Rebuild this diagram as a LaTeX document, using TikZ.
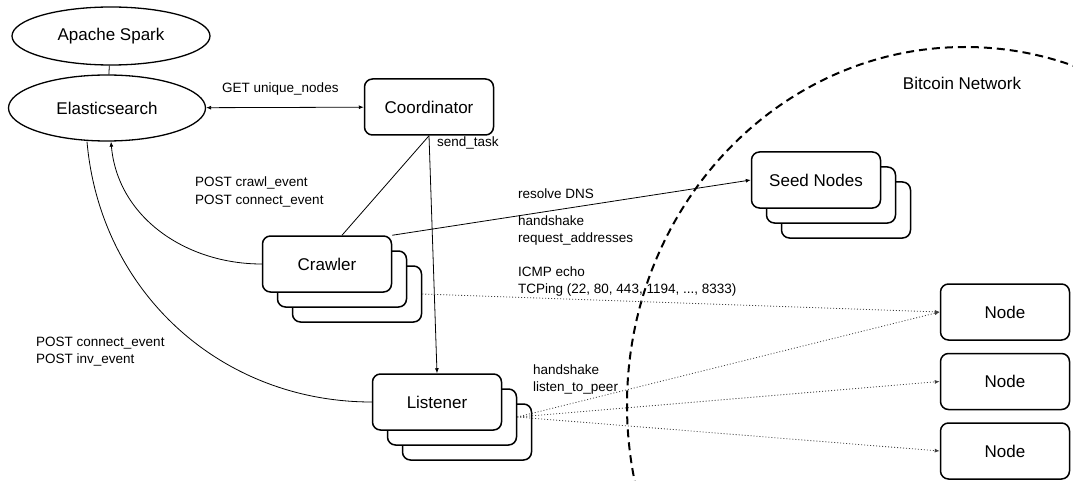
\documentclass[tikz,border=0pt]{standalone}
\usepackage{fontspec}
\setmainfont{Liberation Sans}
\usetikzlibrary{shapes.geometric,arrows.meta}

\begin{document}
\begin{tikzpicture}[x=1pt,y=1pt,
    box/.style={draw,line width=1.5pt,rounded corners=8pt,fill=white,minimum width=129pt,minimum height=56pt,font=\fontsize{17}{20}\selectfont},
    db/.style={draw,ellipse,line width=1.3pt,inner sep=0pt,font=\fontsize{17}{20}\selectfont},
    lbl/.style={align=left,anchor=west,inner sep=0pt,font=\fontsize{13.5}{17.5}\selectfont},
    conn/.style={line width=0.8pt},
    tip/.style={-{Latex[length=5pt,width=4pt]}},
    probe/.style={conn,black!75,dash pattern=on 1pt off 2pt,tip}]
    \useasboundingbox (0,0) rectangle (1073,480);

    % Bitcoin network boundary
    \begin{scope}
      \clip (0,0) rectangle (1073,480);
      \draw[line width=2pt,dash pattern=on 8pt off 5pt] (965,75) ellipse[x radius=338pt,y radius=358pt];
    \end{scope}
    \node[font=\fontsize{17}{20}\selectfont] (net) at (962,397) {Bitcoin Network};

    % Storage
    \node[db,minimum width=198pt,minimum height=58pt] (spark) at (111,444) {Apache Spark};
    \node[db,minimum width=197pt,minimum height=66pt] (es) at (107,372) {Elasticsearch};
    \draw[conn] (spark) -- (es);

    % Coordinator
    \node[box] (crd) at (429,373) {Coordinator};

    % Crawlers
    \node[box] (crw3) at (357,186) {};
    \node[box] (crw2) at (342,201) {};
    \node[box] (crw) at (327,216) {Crawler};

    % Listeners
    \node[box] (lst3) at (467,48) {};
    \node[box] (lst2) at (452,63) {};
    \node[box] (lst) at (437,78) {Listener};

    % Seed nodes
    \node[box] (seed3) at (846,270) {};
    \node[box] (seed2) at (831,285) {};
    \node[box] (seed) at (816,300) {Seed Nodes};

    % Peers
    \node[box] (n1) at (1005,168) {Node};
    \node[box] (n2) at (1005,98.5) {Node};
    \node[box] (n3) at (1005,29) {Node};

    % Coordinator links
    \draw[conn,{Latex[length=5pt,width=4pt]}-{Latex[length=5pt,width=4pt]}] (es) -- (crd);
    \node[lbl] (getlbl) at (222,391) {GET unique\_nodes};
    \draw[conn] (crd.south) -- ([xshift=15pt]crw.north);
    \draw[conn,tip] (crd.south) -- (lst.north);
    \node[lbl] (sendlbl) at (437,337) {send\_task};

    % Events
    \draw[conn,tip] (crw.west) to[out=180,in=-85] ([xshift=4pt]es.south);
    \node[lbl] (crwlbl) at (195,288) {POST crawl\_event\\POST connect\_event};
    \draw[conn] ([xshift=-20pt]es.south) to[out=-85,in=180] (lst.west);
    \node[lbl] (lstlbl) at (36,128.5) {POST connect\_event\\POST inv\_event};

    % Crawler probes
    \draw[conn,tip] (crw.north east) -- (seed.west);
    \node[lbl] (dnslbl) at (518,286) {resolve DNS};
    \node[lbl] (addrlbl) at (518,249.5) {handshake\\request\_addresses};
    \node[lbl] (pinglbl) at (518,198.5) {ICMP echo\\TCPing (22, 80, 443, 1194, ..., 8333)};
    \draw[probe] (crw3.east) -- (n1.west);

    % Listener peers
    \node[lbl] (peerlbl) at (533,100.5) {handshake\\listen\_to\_peer};
    \draw[probe] (lst2.east) -- (n1.west);
    \draw[probe] (lst2.east) -- (n2.west);
    \draw[probe] (lst2.east) -- (n3.west);
\end{tikzpicture}
\end{document}
